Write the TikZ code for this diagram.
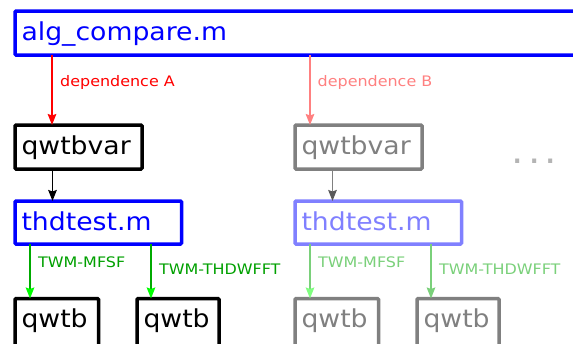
\documentclass[tikz,border=0pt]{standalone}
\usepackage{fontspec}
\usetikzlibrary{arrows.meta}
\newfontfamily\boxfont[FakeStretch=1.08]{DejaVu Sans}
\newfontfamily\lblfont[FakeStretch=1.1]{DejaVu Sans}

\definecolor{mainblue}{RGB}{0,0,255}
\definecolor{paleblue}{RGB}{128,128,255}
\definecolor{midgray}{RGB}{128,128,128}
\definecolor{darkgray}{RGB}{90,90,90}
\definecolor{depred}{RGB}{255,0,0}
\definecolor{palered}{RGB}{255,128,128}
\definecolor{grnline}{RGB}{0,170,0}
\definecolor{grntext}{RGB}{0,160,0}
\definecolor{grnhead}{RGB}{0,255,0}
\definecolor{palegrn}{RGB}{122,208,122}
\definecolor{palegrnhead}{RGB}{128,255,128}
\definecolor{dotgray}{RGB}{180,180,180}

\tikzset{
  x=1pt, y=-1pt,
  box/.style={draw, line width=3.5pt, rounded corners=1pt, outer sep=0pt,
    inner xsep=6.5pt, inner ysep=0pt, anchor=north west, align=left,
    text height=29pt, text depth=15pt,
    font=\boxfont\fontsize{24.7}{24.7}\selectfont},
  lbl/.style={anchor=base west, inner sep=0pt,
    font=\lblfont\fontsize{14.5}{14.5}\selectfont},
  link/.style={line width=1.7pt,
    -{Stealth[length=11pt, width=8.5pt, inset=1.5pt]}},
}

\begin{document}
\begin{tikzpicture}
\useasboundingbox (0,0) rectangle (573,343);
\clip (0,0) rectangle (573,343);

% top-level script
\node[box, draw=mainblue, text=mainblue, text width=587pt] (top) at (15,11) {alg\_compare.m};

% first dependence chain
\node[box, text width=114pt] (qv1) at (15,125) {qwtbvar};
\node[box, draw=mainblue, text=mainblue, text width=153.5pt, text depth=14pt] (th1) at (15,201) {thdtest.m};
\node[box, text width=70.5pt, text depth=21pt] (qb1) at (15,298.5) {qwtb};
\node[box, text width=69pt, text depth=21pt] (qb2) at (137,298.5) {qwtb};

% second dependence chain (faded)
\node[box, draw=midgray, text=midgray, text width=114pt] (qv2) at (295,125) {qwtbvar};
\node[box, draw=paleblue, text=paleblue, text width=153.5pt, text depth=14pt] (th2) at (295,201) {thdtest.m};
\node[box, draw=midgray, text=midgray, text width=70.5pt, text depth=21pt] (qb3) at (295,298.5) {qwtb};
\node[box, draw=midgray, text=midgray, text width=69pt, text depth=21pt] (qb4) at (417,298.5) {qwtb};

% further chains
\node[anchor=base west, inner sep=0pt, text=dotgray,
  font=\boxfont\fontsize{36}{36}\selectfont] (more) at (511,163) {.\hspace{4.5pt}.\hspace{4.5pt}.};

% arrow end points on the box edges
\coordinate (a1) at ([xshift=37pt]qv1.north west);
\coordinate (a2) at ([xshift=15pt]qv2.north west);
\coordinate (b1) at ([xshift=37.5pt]th1.north west);
\coordinate (b2) at ([xshift=37.5pt]th2.north west);
\coordinate (g1) at ([xshift=15pt]qb1.north west);
\coordinate (g2) at ([xshift=14pt]qb2.north west);
\coordinate (g3) at ([xshift=15pt]qb3.north west);
\coordinate (g4) at ([xshift=14pt]qb4.north west);

% dependence arrows
\draw[link, depred] (top.south -| a1) -- (a1);
\draw[link, palered] (top.south -| a2) -- (a2);
\draw[link, black] (qv1.south -| b1) -- (b1);
\draw[link, midgray, -{Stealth[length=11pt, width=8.5pt, inset=1.5pt, darkgray]}] (qv2.south -| b2) -- (b2);
\draw[link, grnline, -{Stealth[length=11pt, width=8.5pt, inset=1.5pt, grnhead]}] (th1.south -| g1) -- (g1);
\draw[link, grnline, -{Stealth[length=11pt, width=8.5pt, inset=1.5pt, grnhead]}] (th1.south -| g2) -- (g2);
\draw[link, palegrn, -{Stealth[length=11pt, width=8.5pt, inset=1.5pt, palegrnhead]}] (th2.south -| g3) -- (g3);
\draw[link, palegrn] (th2.south -| g4) -- (g4);

% arrow labels
\node[lbl, text=depred] (la) at (60,86) {dependence A};
\node[lbl, text=palered] (lb) at (317.5,86) {dependence B};
\node[lbl, text=grntext] (l1) at (38,267) {TWM-MFSF};
\node[lbl, text=grntext] (l2) at (159,274) {TWM-THDWFFT};
\node[lbl, text=palegrn] (l3) at (318,267) {TWM-MFSF};
\node[lbl, text=palegrn] (l4) at (439,274) {TWM-THDWFFT};
\end{tikzpicture}
\end{document}
